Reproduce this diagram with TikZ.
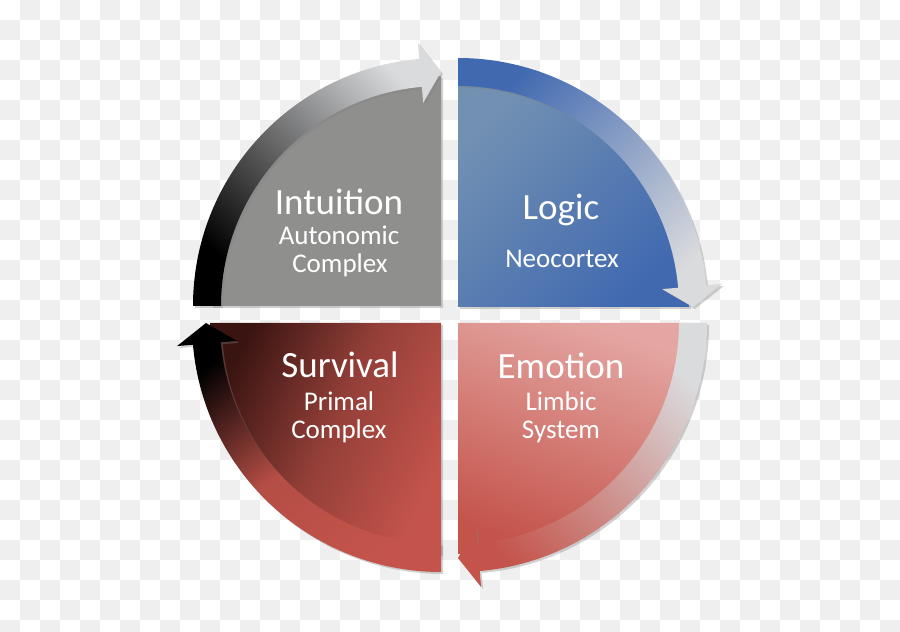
\documentclass[tikz,border=0pt]{standalone}
\usepackage{fontspec}
\setmainfont{Carlito}
\usepackage{tikz}
\usetikzlibrary{shadows}
\usepackage{xcolor}
\definecolor{checkgray}{HTML}{EFEFEF}
\definecolor{intugray}{HTML}{8F908E}
\definecolor{logicblue}{HTML}{4169B0}
\definecolor{logicpale}{HTML}{7291B2}
\definecolor{emopink}{HTML}{E4A6A2}
\definecolor{emored}{HTML}{C4544B}
\definecolor{survdark}{HTML}{3A1411}
\definecolor{bandlight}{HTML}{DADBDD}

\begin{document}
\begin{tikzpicture}[x=1pt, y=1pt,
    title/.style={text=white, anchor=base, font=\fontsize{37}{40}\selectfont},
    sub/.style={text=white, anchor=base, font=\fontsize{27}{30}\selectfont},
    piece/.style={drop shadow={shadow xshift=2pt, shadow yshift=-2pt, opacity=0.35}}]
    \useasboundingbox (0,0) rectangle (900,632);
    % transparency checker
    \fill[white] (0,0) rectangle (900,632);
    \foreach \i in {1,3,...,43} \foreach \j in {0,2,...,30}
        \fill[checkgray] (20*\i,612-20*\j) rectangle ++(20,20);
    \foreach \i in {0,2,...,44} \foreach \j in {1,3,...,31}
        \fill[checkgray] (20*\i,612-20*\j) rectangle ++(20,20);

    % Intuition
    \begin{scope}[shift={(441,326)}]
        \path[piece, fill=intugray] (0,0) -- (180:230) arc[start angle=180, end angle=90, radius=230] -- cycle;
        \path[piece, top color=bandlight, bottom color=black, shading angle=-45]
            (180:248) arc[start angle=180, end angle=95, radius=248] -- (95:264) -- (90:234)
            -- (95:204) -- (95:220) arc[start angle=95, end angle=180, radius=220] -- cycle;
    \end{scope}
    % Logic
    \begin{scope}[shift={(458,325)}]
        \path[piece, top color=logicpale, bottom color=logicblue, shading angle=45]
            (0,0) -- (90:231) arc[start angle=90, end angle=0, radius=231] -- cycle;
        \path[piece, top color=logicblue, bottom color=bandlight, shading angle=45]
            (90:249) arc[start angle=90, end angle=5, radius=249] -- (5:265) -- (0:235)
            -- (5:205) -- (5:221) arc[start angle=5, end angle=90, radius=221] -- cycle;
    \end{scope}
    % Emotion
    \begin{scope}[shift={(458,309)}]
        \path[piece, top color=emopink, bottom color=emored, shading angle=-20]
            (0,0) -- (0:231) arc[start angle=0, end angle=-90, radius=231] -- cycle;
        \path[piece, top color=bandlight, bottom color=emored, shading angle=-45]
            (0:249) arc[start angle=0, end angle=-85, radius=249] -- (-85:265) -- (-90:235)
            -- (-85:205) -- (-85:221) arc[start angle=-85, end angle=0, radius=221] -- cycle;
    \end{scope}
    % Survival
    \begin{scope}[shift={(441,309)}]
        \path[piece, top color=survdark, bottom color=emored, middle color=emored!75!black, shading angle=65]
            (0,0) -- (-90:231) arc[start angle=-90, end angle=-180, radius=231] -- cycle;
        \path[piece, top color=black, bottom color=emored, middle color=emored!92!black, shading angle=40]
            (-90:249) arc[start angle=-90, end angle=-175, radius=249] -- (-175:265) -- (-180:235)
            -- (-175:205) -- (-175:221) arc[start angle=-175, end angle=-90, radius=221] -- cycle;
    \end{scope}

    \node[title] (intuition) at (339,417) {Intuition};
    \node[sub] (autonomic) at (339,387) {Autonomic};
    \node[sub] (complexa) at (340,359) {Complex};
    \node[title] (logic) at (561,412) {Logic};
    \node[sub] (neocortex) at (562,364) {Neocortex};
    \node[title] (survival) at (340,254) {Survival};
    \node[sub] (primal) at (339,221) {Primal};
    \node[sub] (complexb) at (339,193) {Complex};
    \node[title] (emotion) at (561,253) {Emotion};
    \node[sub] (limbic) at (561,221) {Limbic};
    \node[sub] (system) at (561,193) {System};
\end{tikzpicture}
\end{document}
